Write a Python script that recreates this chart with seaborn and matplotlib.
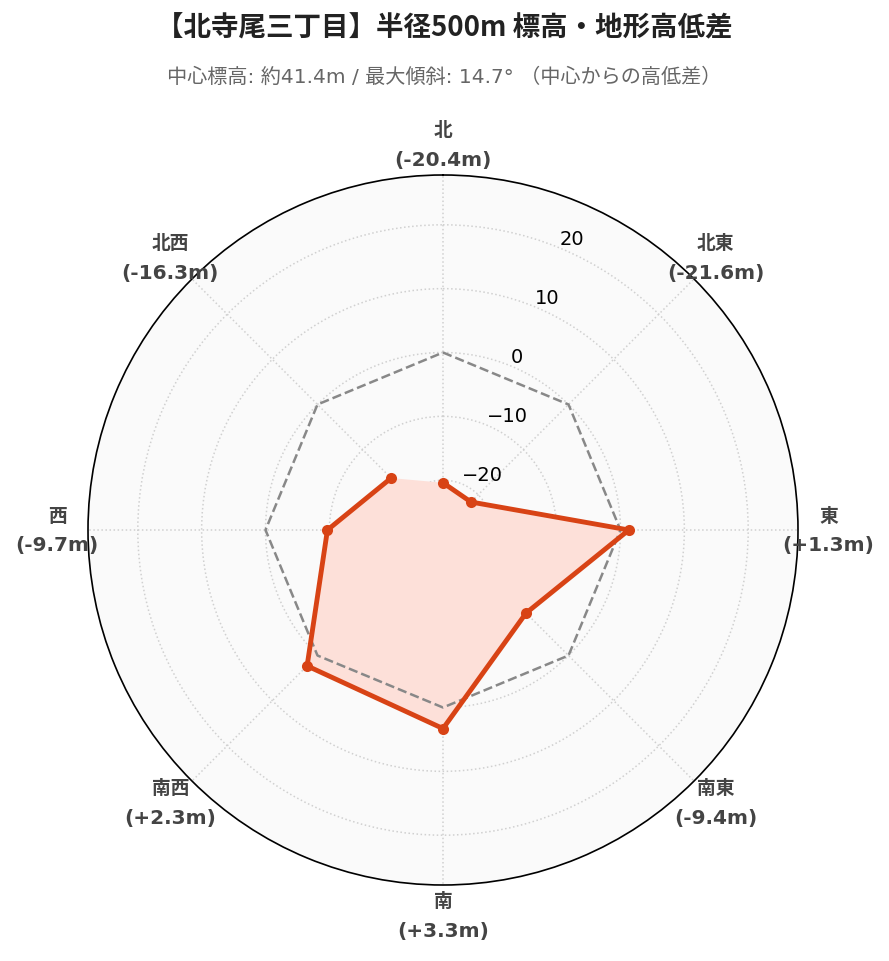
import numpy as np
import pandas as pd
import matplotlib
matplotlib.use("Agg")
import matplotlib.pyplot as plt
from matplotlib.transforms import offset_copy
import seaborn as sns

directions = ["北", "北東", "東", "南東", "南", "南西", "西", "北西"]
diffs = [-20.4, -21.6, 1.3, -9.4, 3.3, 2.3, -9.7, -16.3]
r_ticks = [-20, -10, 0, 10, 20]
title = "【北寺尾三丁目】半径500m 標高・地形高低差"
subtitle = "中心標高: 約41.4m / 最大傾斜: 14.7° （中心からの高低差）"

sns.set_theme(style="white")
plt.rcParams['font.family'] = ['Noto Sans CJK JP', 'DejaVu Sans']
latin_first = ['DejaVu Sans', 'Noto Sans CJK JP']

angles = np.linspace(0, 2 * np.pi, len(directions), endpoint=False)
df = pd.DataFrame({"theta": np.append(angles, angles[0]),
                   "diff": diffs + diffs[:1]})

fig = plt.figure(figsize=(8.89, 9.62), dpi=100)
ax = fig.add_axes([88 / 889, 76 / 962, 710 / 889, 710 / 962], projection="polar")
ax.set_theta_zero_location("N")
ax.set_theta_direction(-1)
ax.set_facecolor("#fafafa")

# area first, grid drawn on top of it
ax.fill(df["theta"], df["diff"], color="#fde0d9", lw=0, zorder=1)
# zero reference
ax.plot(df["theta"], np.zeros(len(df)), color="#888888", ls="--", lw=1.8, zorder=3)
sns.lineplot(data=df, x="theta", y="diff", sort=False, color="#d84315", lw=3.5,
             marker="o", markersize=8, markeredgewidth=0, ax=ax, zorder=4)

ax.set_ylim(-27.8, 27.8)
ax.set_yticks(r_ticks)
ax.set_yticklabels([str(t).replace("-", "\u2212") for t in r_ticks],
                   fontsize=14, fontfamily="DejaVu Sans", color="black")
ax.set_rlabel_position(22.5)
ax.set_xticks(angles)
ax.set_xticklabels([])
ax.grid(True, color="#d0d0d0", ls=":", lw=1.1)
ax.spines["polar"].set_color("black")
ax.spines["polar"].set_linewidth(1.2)
ax.set_xlabel("")
ax.set_ylabel("")

# direction labels centred just outside the rim
r_lab = 32.6
up = offset_copy(ax.transData, fig=fig, x=0, y=15, units="dots")
down = offset_copy(ax.transData, fig=fig, x=0, y=-15, units="dots")
for a, d, v in zip(angles, directions, diffs):
    ax.text(a, r_lab, d, transform=up, ha="center", va="center", fontsize=13.5,
            fontweight="bold", color="#444444", family=latin_first, clip_on=False)
    ax.text(a, r_lab, f"({v:+.1f}m)", transform=down, ha="center", va="center",
            fontsize=14.5, fontweight="bold", color="#444444", family=latin_first, clip_on=False)

fig.text(0.5, 1 - 28 / 962, title, ha="center", va="center", fontsize=19.8, fontweight="bold", color="#222222")
fig.text(0.5, 1 - 77 / 962, subtitle, ha="center", va="center", fontsize=14.5, color="#666666",
         family=latin_first)

fig.savefig("out.png", dpi=100, facecolor="white")
